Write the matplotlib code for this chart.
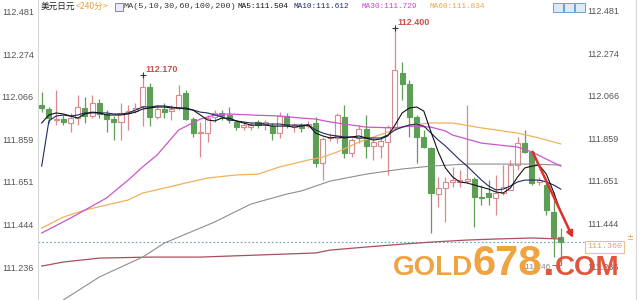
import matplotlib
matplotlib.use("Agg")
import matplotlib.pyplot as plt
from matplotlib.patches import Rectangle
from matplotlib.transforms import blended_transform_factory

# USD/JPY, 240 minute bars
opens = [112.026, 112.006, 111.953, 111.957, 111.938, 111.962, 112.011, 111.972, 112.035, 111.982,
         111.957, 111.943, 111.987, 111.996, 112.021, 112.113, 111.967, 112.006, 111.996, 112.011,
         112.084, 111.957, 111.889, 111.889, 111.967, 111.987, 111.977, 111.943, 111.918, 111.918,
         111.943, 111.933, 111.923, 111.889, 111.972, 111.918, 111.928, 111.923, 111.938, 111.743,
         111.865, 111.865, 111.967, 111.792, 111.865, 111.909, 111.826, 111.826, 111.845, 111.918,
         112.181, 112.128, 111.967, 111.870, 111.816, 111.592, 111.621, 111.651, 111.651, 111.655,
         111.665, 111.577, 111.597, 111.573, 111.597, 111.612, 111.733, 111.840, 111.797, 111.651,
         111.636, 111.504, 111.383]
highs = [112.089, 112.016, 112.099, 111.977, 111.987, 112.074, 112.065, 112.074, 112.055, 112.001,
         111.972, 112.035, 112.026, 112.035, 112.170, 112.133, 112.026, 112.035, 112.026, 112.123,
         112.099, 111.967, 111.943, 111.977, 112.001, 112.001, 112.016, 111.953, 111.943, 111.943,
         111.953, 111.953, 111.938, 111.991, 111.987, 111.938, 111.938, 111.948, 111.967, 111.870,
         111.889, 111.987, 112.026, 111.865, 111.928, 111.977, 111.865, 111.865, 111.928, 112.400,
         112.235, 112.147, 111.977, 111.904, 111.821, 111.675, 111.675, 111.724, 111.709, 112.026,
         111.675, 111.636, 111.660, 111.685, 111.733, 111.758, 111.870, 111.904, 111.806, 111.675,
         111.651, 111.602, 111.426]
lows = [111.991, 111.938, 111.928, 111.928, 111.894, 111.928, 111.938, 111.962, 111.962, 111.894,
        111.855, 111.855, 111.904, 111.987, 111.923, 111.923, 111.957, 111.962, 111.953, 112.001,
        111.953, 111.870, 111.772, 111.845, 111.943, 111.953, 111.938, 111.904, 111.904, 111.904,
        111.914, 111.904, 111.855, 111.865, 111.914, 111.894, 111.894, 111.914, 111.724, 111.660,
        111.850, 111.840, 111.767, 111.772, 111.840, 111.767, 111.758, 111.767, 111.685, 111.904,
        112.050, 111.870, 111.743, 111.816, 111.402, 111.529, 111.456, 111.626, 111.626, 111.646,
        111.431, 111.538, 111.538, 111.490, 111.587, 111.612, 111.709, 111.792, 111.636, 111.636,
        111.490, 111.285, 111.246]
closes = [112.011, 111.962, 111.957, 111.943, 111.962, 112.016, 111.972, 112.035, 111.982, 111.957,
          111.943, 111.987, 111.996, 112.011, 112.113, 111.967, 112.006, 111.991, 112.006, 112.074,
          111.957, 111.889, 111.894, 111.962, 111.987, 111.972, 111.953, 111.918, 111.928, 111.928,
          111.928, 111.943, 111.889, 111.972, 111.928, 111.928, 111.914, 111.933, 111.743, 111.860,
          111.870, 111.977, 111.792, 111.855, 111.909, 111.826, 111.845, 111.850, 111.918, 112.196,
          112.128, 111.967, 111.870, 111.821, 111.597, 111.621, 111.651, 111.660, 111.660, 111.665,
          111.577, 111.573, 111.577, 111.597, 111.626, 111.733, 111.840, 111.797, 111.646, 111.660,
          111.514, 111.383, 111.358]

# moving averages, one value per bar
ma5 = [111.938, 111.977, 111.987, 111.982, 111.972, 111.962, 111.982, 111.991, 111.987, 111.977,
       111.977, 111.977, 111.982, 111.991, 112.006, 112.011, 112.016, 112.016, 112.011, 112.011,
       112.011, 112.001, 111.977, 111.953, 111.948, 111.962, 111.962, 111.948, 111.938, 111.928,
       111.928, 111.928, 111.923, 111.923, 111.923, 111.918, 111.923, 111.928, 111.889, 111.875,
       111.865, 111.870, 111.865, 111.870, 111.875, 111.865, 111.855, 111.860, 111.875, 111.928,
       111.987, 112.011, 112.016, 111.996, 111.894, 111.797, 111.719, 111.675, 111.651, 111.646,
       111.636, 111.626, 111.616, 111.602, 111.597, 111.621, 111.675, 111.719, 111.728, 111.733,
       111.689, 111.602, 111.504]
ma10 = [111.728, 111.948, 111.972, 111.977, 111.972, 111.977, 111.987, 111.987, 111.987, 111.987,
        111.982, 111.982, 111.987, 112.001, 112.016, 112.016, 112.021, 112.021, 112.016, 112.011,
        112.006, 112.001, 111.991, 111.987, 111.977, 111.967, 111.953, 111.948, 111.943, 111.938,
        111.938, 111.933, 111.933, 111.933, 111.928, 111.928, 111.928, 111.928, 111.904, 111.889,
        111.879, 111.875, 111.870, 111.870, 111.865, 111.865, 111.865, 111.865, 111.879, 111.904,
        111.918, 111.928, 111.933, 111.923, 111.889, 111.855, 111.826, 111.792, 111.758, 111.728,
        111.694, 111.660, 111.631, 111.612, 111.616, 111.631, 111.651, 111.660, 111.660, 111.660,
        111.651, 111.636, 111.616]

# slower averages, read at a few bars
ma30_idx = [0, 4, 6, 9, 12, 14, 16, 19, 22, 24, 26, 29, 33, 36, 38, 40, 45, 49, 51, 54, 56, 57, 61, 66, 68, 70, 72]
ma30 = [111.402, 111.475, 111.514, 111.573, 111.660, 111.724, 111.782, 111.904, 111.957, 111.977,
        111.982, 111.977, 111.972, 111.962, 111.957, 111.943, 111.918, 111.914, 111.923, 111.918,
        111.899, 111.879, 111.840, 111.821, 111.797, 111.762, 111.728]
ma60_idx = [0, 3, 6, 12, 14, 17, 20, 23, 27, 30, 33, 37, 39, 41, 44, 48, 51, 54, 57, 61, 66, 69, 72]
ma60 = [111.426, 111.480, 111.514, 111.563, 111.597, 111.621, 111.646, 111.670, 111.685, 111.689,
        111.724, 111.758, 111.772, 111.797, 111.845, 111.894, 111.928, 111.938, 111.938, 111.914,
        111.889, 111.865, 111.836]
ma100_idx = [3, 8, 14, 17, 24, 29, 34, 36, 38, 40, 45, 50, 54, 59, 64, 68, 72]
ma100 = [111.076, 111.188, 111.285, 111.353, 111.456, 111.543, 111.592, 111.607, 111.631, 111.655,
         111.689, 111.714, 111.728, 111.738, 111.738, 111.738, 111.733]
ma200_idx = [0, 3, 8, 15, 22, 30, 38, 40, 45, 50, 54, 59, 63, 68, 72]
ma200 = [111.241, 111.261, 111.280, 111.285, 111.285, 111.295, 111.305, 111.319, 111.334, 111.348,
         111.358, 111.368, 111.373, 111.378, 111.373]

yticks = [112.481, 112.274, 112.066, 111.859, 111.651, 111.444, 111.236]
last_price = 111.360
marked_highs = [14, 49]
marked_low = 72
arrow_from = (68.1, 111.797)
arrow_to = (73.7, 111.378)

up_col = '#d98a8c'
down_col = '#5c9f55'
label_font = 'Liberation Sans'
mono_font = 'Liberation Mono'

fig = plt.figure(figsize=(6.4, 3.0), dpi=100)
fig.patch.set_facecolor('white')
ax = fig.add_axes([38 / 640, 0, (636 - 38) / 640, 1])
ax.set_xlim(-0.51, 82.43)
ax.set_ylim(111.076, 112.537)

# candles
for i in range(len(opens)):
    o, h, l, c = opens[i], highs[i], lows[i], closes[i]
    up = c >= o
    col = up_col if up else down_col
    ax.vlines(i, l, h, color=col, lw=0.9, zorder=2)
    ax.add_patch(Rectangle((i - 0.35, min(o, c)), 0.7, max(abs(c - o), 0.0006),
                           facecolor='white' if up else col, edgecolor=col, lw=0.8, zorder=3))

# moving average lines
xs = list(range(len(ma5)))
ax.plot(ma200_idx, ma200, color='#a8505c', lw=0.9, zorder=4)
ax.plot(ma100_idx, ma100, color='#8e8e8e', lw=0.8, zorder=4)
ax.plot(ma60_idx, ma60, color='#f0b25c', lw=0.9, zorder=4)
ax.plot(ma30_idx, ma30, color='#cc55cc', lw=0.9, zorder=4)
ax.plot(xs, ma10, color='#1f2a66', lw=0.8, zorder=5)
ax.plot(xs, ma5, color='#111111', lw=0.8, zorder=5)

# current price line
ax.axhline(last_price, xmin=0, xmax=(585 - 38) / 598, color='#6a9ec2', lw=0.8,
           ls=(0, (1.5, 2)), zorder=1)

# high / low markers
for k in marked_highs:
    ax.plot(k, highs[k], marker='+', ms=5, mew=0.8, color='#333333', zorder=6)
    ax.annotate(f"{highs[k]:.3f}", xy=(k, highs[k]), xytext=(2, 1), textcoords='offset points',
                ha='left', va='bottom', fontsize=6.5, fontweight='bold', color='#c8504d',
                family=label_font, zorder=6)
ax.hlines(lows[marked_low], marked_low - 1.2, marked_low, color='#777777', lw=0.7, zorder=6)
ax.annotate(f"{lows[marked_low]:.3f}", xy=(marked_low - 1.4, lows[marked_low]), xytext=(0, -2),
            textcoords='offset points', ha='right', va='center', fontsize=6, color='#888888',
            family=label_font, zorder=6)

# arrow
ax.annotate('', xy=arrow_to, xytext=arrow_from,
            arrowprops=dict(arrowstyle='-|>', color='#e0302c', lw=1.8, mutation_scale=9,
                            shrinkA=0, shrinkB=0), zorder=7)

# axes styling
ax.set_xticks([])
ax.set_yticks(yticks)
ax.set_yticklabels([f"{v:.3f}" for v in yticks], fontsize=6.5, color='#555555', family=label_font)
ax.tick_params(axis='y', length=0, pad=3)
for s in ['top', 'bottom']:
    ax.spines[s].set_visible(False)
for s in ['left', 'right']:
    ax.spines[s].set_color('#d6d6d6')
    ax.spines[s].set_linewidth(0.8)

tr = blended_transform_factory(ax.transAxes, ax.transData)
for v in yticks:
    ax.text((587 - 38) / 598, v, f"{v:.3f}", transform=tr, ha='left', va='center',
            fontsize=6.5, color='#555555', family=label_font, zorder=2)

# current price tag
fig.text(587 / 640, 1 - 247 / 300, f"{last_price:.3f}", ha='left', va='center', fontsize=6,
         color='#c9a878', family=mono_font,
         bbox=dict(boxstyle='square,pad=0.25', facecolor='white', edgecolor='#e3c28e', lw=0.8))
fig.text(630 / 640, 1 - 238 / 300, '±', ha='center', va='center', fontsize=6, color='#d9a050')


def px(x, y):
    return x / 640, 1 - y / 300


# header line
fig.text(*px(41, 6.5), '美元日元', ha='left', va='center', fontsize=6.2, color='#222222',
         family=['Noto Sans CJK SC', 'DejaVu Sans'])
fig.text(*px(76, 6.5), '<240分>', ha='left', va='center', fontsize=6.2, color='#e6a23c',
         family=['Noto Sans CJK SC', 'DejaVu Sans'])
fig.patches.append(Rectangle(px(115, 11), 8 / 640, 8 / 300, transform=fig.transFigure,
                             facecolor='#eeeafa', edgecolor='#8a7fc4', lw=0.7))
header = [("MA(5,10,30,60,100,200)", 124, '#333333', 6.1),
          ("MA5:111.504", 238, '#111111', 5.6),
          ("MA10:111.612", 294, '#1f2a66', 5.6),
          ("MA30:111.729", 362, '#cc44cc', 5.6),
          ("MA60:111.834", 429, '#e8a648', 5.6)]
for txt, x0, col, fs in header:
    fig.text(*px(x0, 6.5), txt, ha='left', va='center', fontsize=fs, color=col, family=mono_font)
for x0 in [553, 564, 575]:
    fig.patches.append(Rectangle(px(x0, 12), 10 / 640, 9 / 300, transform=fig.transFigure,
                                 facecolor='#dde9f6', edgecolor='#6d9fcf', lw=0.7))

# watermark
fig.text(*px(393, 275), 'GOLD', ha='left', va='baseline', fontsize=20, fontweight='bold',
         color='#f0a441', family=label_font, zorder=10)
fig.text(*px(472, 275), '678', ha='left', va='baseline', fontsize=30, fontweight='bold',
         color='#f0a441', family=label_font, zorder=10)
fig.text(*px(542, 275), '.', ha='left', va='baseline', fontsize=30, fontweight='bold',
         color='#e0553c', family=label_font, zorder=10)
fig.text(*px(555, 275), 'COM', ha='left', va='baseline', fontsize=20, fontweight='bold',
         color='#e0553c', family=label_font, zorder=10)

fig.savefig('out.png', dpi=100)
